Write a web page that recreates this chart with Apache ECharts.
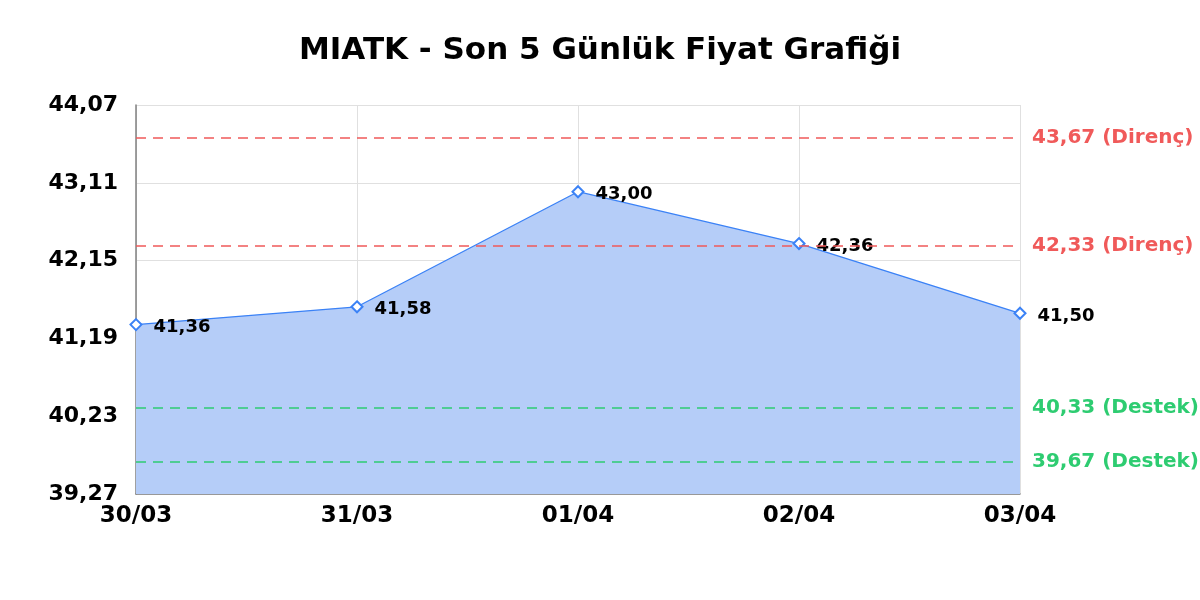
<!DOCTYPE html>
<html>
<head>
<meta charset="utf-8">
<script src="https://cdn.jsdelivr.net/npm/echarts@6/dist/echarts.min.js"></script>
<style>html,body{margin:0;padding:0;background:#fff}#c{width:1200px;height:600px}</style>
</head>
<body>
<div id="c"></div>
<script>
var titleText = 'MIATK - Son 5 Günlük Fiyat Grafiği';
var categories = ['30/03', '31/03', '01/04', '02/04', '03/04'];
var prices = [41.36, 41.58, 43.00, 42.36, 41.50];
var resistance = [43.67, 42.33];
var support = [40.33, 39.67];
var yMin = 39.27, yMax = 44.07, yStep = 0.96;

function fmt(v) { return v.toFixed(2).replace('.', ','); }

var FONT = '"DejaVu Sans", sans-serif';
var markData = [];
resistance.forEach(function (v) {
  markData.push({ yAxis: v, lineStyle: { color: '#f05a5a' },
    label: { color: '#f05a5a', formatter: fmt(v) + ' (Direnç)' } });
});
support.forEach(function (v) {
  markData.push({ yAxis: v, lineStyle: { color: '#2ecc71' },
    label: { color: '#2ecc71', formatter: fmt(v) + ' (Destek)' } });
});

var chart = echarts.init(document.getElementById('c'), null, { renderer: 'canvas' });
chart.setOption({
  animation: false,
  backgroundColor: '#ffffff',
  title: {
    text: titleText, left: 'center', top: 30,
    textStyle: { fontFamily: FONT, fontWeight: 'bold', fontSize: 31, color: '#000' }
  },
  grid: { left: 136, right: 180, top: 105, bottom: 106, containLabel: false },
  xAxis: {
    type: 'category', data: categories, boundaryGap: false,
    axisLine: { show: true, lineStyle: { color: '#808080', width: 1.5 } },
    axisTick: { show: false },
    splitLine: { show: true, lineStyle: { color: '#e0e0e0', width: 1 } },
    axisLabel: { fontFamily: FONT, fontWeight: 'bold', fontSize: 23, color: '#000', margin: 11 }
  },
  yAxis: {
    type: 'value', min: yMin, max: yMax, interval: yStep,
    axisLine: { show: true, lineStyle: { color: '#808080', width: 1.5 } },
    axisTick: { show: false },
    splitLine: { show: true, lineStyle: { color: '#e0e0e0', width: 1 } },
    axisLabel: { fontFamily: FONT, fontWeight: 'bold', fontSize: 22, color: '#000', margin: 18,
      formatter: function (v) { return fmt(v); } }
  },
  series: [{
    type: 'line', data: prices,
    symbol: 'emptyDiamond', symbolSize: 11,
    itemStyle: { color: '#3b82f6', borderWidth: 2 },
    lineStyle: { color: '#3b82f6', width: 1.3 },
    areaStyle: { color: '#b5cdf8', opacity: 1 },
    label: { show: true, position: 'right', distance: 11, offset: [0, 3],
      fontFamily: FONT, fontWeight: 'bold', fontSize: 18, color: '#000',
      formatter: function (p) { return fmt(p.value); } },
    markLine: {
      silent: true, symbol: 'none',
      lineStyle: { type: [10, 7], width: 1.5 },
      label: { show: true, position: 'end', distance: 12,
        fontFamily: FONT, fontWeight: 'bold', fontSize: 20 },
      data: markData
    },
    z: 3
  }]
});
</script>
</body>
</html>
